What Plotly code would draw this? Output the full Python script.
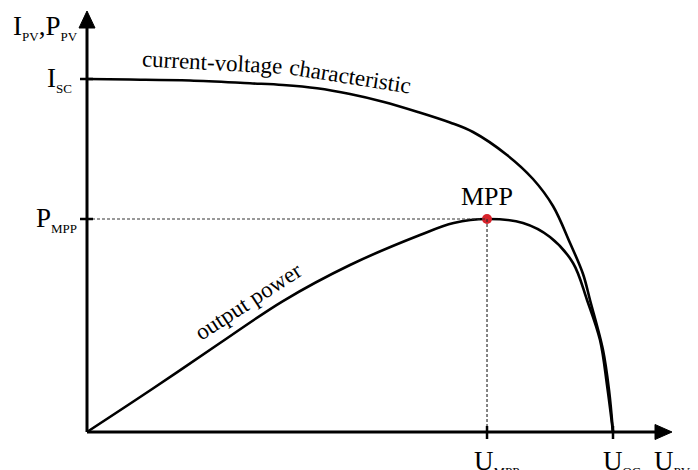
import plotly.graph_objects as go

# ---- data (normalised: U_OC = 1, I_SC = 1) ----
u_iv = [0.0, 0.0817, 0.1958, 0.3099, 0.3726, 0.4373, 0.5, 0.5627, 0.6274, 0.6901,
        0.7338, 0.7985, 0.8479, 0.8859, 0.9183, 0.9430, 0.9563, 0.9810, 0.9924, 1.0]
i_iv = [1.0, 0.9986, 0.9958, 0.9878, 0.9830, 0.9737, 0.9575, 0.9357, 0.9074, 0.8768,
        0.8499, 0.7847, 0.7167, 0.6402, 0.5354, 0.4476, 0.3739, 0.2323, 0.1190, 0.0]

u_p = [0.0, 0.1268, 0.2529, 0.3726, 0.5000, 0.6331, 0.6971, 0.7605, 0.8289, 0.8802,
       0.9240, 0.9506, 0.9753, 0.9886, 1.0]
p_p = [0.0, 0.1246, 0.2521, 0.3710, 0.4731, 0.5581, 0.5921, 0.6034, 0.5921, 0.5524,
       0.4788, 0.3739, 0.2606, 0.1331, 0.0]

u_mpp = 0.7605
p_mpp = 0.6034
i_sc = 1.0
u_oc = 1.0

# ---- layout helpers (pixel geometry) ----
W, H = 698, 470
OX, OY = 87, 432          # origin pixel
SX, SY = 526.0, 353.0     # pixels per unit


def px2x(px):
    return (px - OX) / SX


def px2y(py):
    return (OY - py) / SY


FONT = "Liberation Serif, Times New Roman, serif"
fig = go.Figure()

# curves
fig.add_trace(go.Scatter(x=u_iv, y=i_iv, mode="lines",
                         line=dict(color="black", width=2.6, shape="spline", smoothing=1.0),
                         hoverinfo="skip", showlegend=False))
fig.add_trace(go.Scatter(x=u_p, y=p_p, mode="lines",
                         line=dict(color="black", width=2.6, shape="spline", smoothing=1.0),
                         hoverinfo="skip", showlegend=False))

shapes = []
# dotted guide lines
shapes.append(dict(type="line", x0=0, y0=p_mpp, x1=u_mpp, y1=p_mpp,
                   line=dict(color="#333", width=1.2, dash="3px,2px")))
shapes.append(dict(type="line", x0=u_mpp, y0=0, x1=u_mpp, y1=p_mpp,
                   line=dict(color="#333", width=1.2, dash="3px,2px")))
# axes
shapes.append(dict(type="line", x0=0, y0=0, x1=px2x(660), y1=0,
                   line=dict(color="black", width=3)))
shapes.append(dict(type="line", x0=0, y0=0, x1=0, y1=px2y(22),
                   line=dict(color="black", width=3)))
# arrow heads
shapes.append(dict(type="path",
                   path=f"M {px2x(672)} 0 L {px2x(655)} {px2y(OY-7.5)} L {px2x(655)} {px2y(OY+7.5)} Z",
                   fillcolor="black", line=dict(color="black", width=1)))
shapes.append(dict(type="path",
                   path=f"M 0 {px2y(11)} L {px2x(OX-8)} {px2y(28)} L {px2x(OX+8)} {px2y(28)} Z",
                   fillcolor="black", line=dict(color="black", width=1)))
# tick marks
for xv in (u_mpp, u_oc):
    shapes.append(dict(type="line", x0=xv, x1=xv, y0=px2y(OY-6), y1=px2y(OY+7),
                       line=dict(color="black", width=2.5)))
for yv in (i_sc, p_mpp):
    shapes.append(dict(type="line", y0=yv, y1=yv, x0=px2x(OX-7), x1=px2x(OX+6),
                       line=dict(color="black", width=2.5)))

# MPP point
fig.add_trace(go.Scatter(x=[u_mpp], y=[p_mpp], mode="markers",
                         marker=dict(color="#d7222a", size=10),
                         hoverinfo="skip", showlegend=False))

BIG = 27


def lbl(main, sub):
    return f"{main}<sub><span style='font-size:13px'>{sub}</span></sub>"


ann = []
ann.append(dict(x=px2x(80), y=px2y(27), text=lbl("I", "PV") + "," + lbl("P", "PV"),
                xanchor="right", yanchor="middle", showarrow=False,
                font=dict(family=FONT, size=BIG, color="black")))
ann.append(dict(x=px2x(74), y=i_sc, text=lbl("I", "SC"),
                xanchor="right", yanchor="middle", showarrow=False,
                font=dict(family=FONT, size=BIG, color="black")))
ann.append(dict(x=px2x(79), y=p_mpp, text=lbl("P", "MPP"),
                xanchor="right", yanchor="middle", showarrow=False,
                font=dict(family=FONT, size=BIG, color="black")))
ann.append(dict(x=u_mpp, y=px2y(196), text="MPP",
                xanchor="center", yanchor="middle", showarrow=False,
                font=dict(family=FONT, size=26, color="black")))
ann.append(dict(x=px2x(472), y=px2y(462), text=lbl("U", "MPP"),
                xanchor="left", yanchor="middle", showarrow=False,
                font=dict(family=FONT, size=BIG, color="black")))
ann.append(dict(x=px2x(601), y=px2y(462), text=lbl("U", "OC"),
                xanchor="left", yanchor="middle", showarrow=False,
                font=dict(family=FONT, size=BIG, color="black")))
ann.append(dict(x=px2x(652), y=px2y(462), text=lbl("U", "PV"),
                xanchor="left", yanchor="middle", showarrow=False,
                font=dict(family=FONT, size=BIG, color="black")))
# curve labels
ann.append(dict(x=px2x(212), y=px2y(62), text="current-voltage", textangle=3,
                xanchor="center", yanchor="middle", showarrow=False,
                font=dict(family=FONT, size=23, color="black")))
ann.append(dict(x=px2x(350), y=px2y(76), text="characteristic", textangle=9,
                xanchor="center", yanchor="middle", showarrow=False,
                font=dict(family=FONT, size=23, color="black")))
ann.append(dict(x=px2x(248), y=px2y(301), text="output power", textangle=-33,
                xanchor="center", yanchor="middle", showarrow=False,
                font=dict(family=FONT, size=23, color="black")))

fig.update_layout(
    width=W, height=H,
    margin=dict(l=0, r=0, t=0, b=0),
    paper_bgcolor="white", plot_bgcolor="white",
    xaxis=dict(range=[px2x(0), px2x(W)], visible=False, fixedrange=True),
    yaxis=dict(range=[px2y(H), px2y(0)], visible=False, fixedrange=True),
    shapes=shapes, annotations=ann, showlegend=False,
)

fig.write_html("out.html", config={"displayModeBar": False},
               post_script="document.body.style.margin='0px';")
